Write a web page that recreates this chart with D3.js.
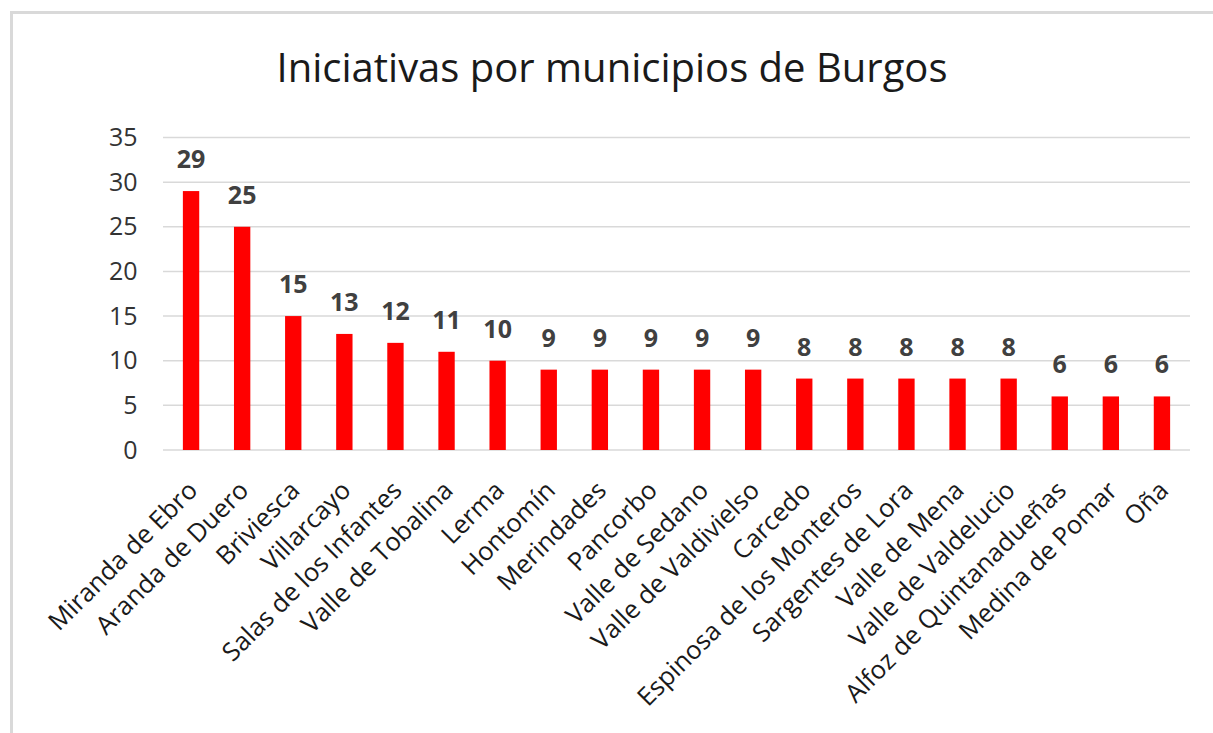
<!DOCTYPE html>
<html lang="es">

<head>
    <meta charset="UTF-8">
    <script src="https://d3js.org/d3.v7.min.js"></script>
    <title>Iniciativas por municipios de Burgos</title>
    <style>
        body {
            margin: 0;
            padding: 0;
            background-color: #fff;
            font-family: "Open Sans", sans-serif;
        }

        .grid line {
            stroke: #d9d9d9;
            stroke-width: 1.5px;
        }

        .bar {
            fill: #ff0000;
        }
    </style>
</head>

<body>
    <div id="chart"></div>
    <script>
        // data
        var municipios = ["Miranda de Ebro", "Aranda de Duero", "Briviesca", "Villarcayo",
            "Salas de los Infantes", "Valle de Tobalina", "Lerma", "Hontomín", "Merindades",
            "Pancorbo", "Valle de Sedano", "Valle de Valdivielso", "Carcedo",
            "Espinosa de los Monteros", "Sargentes de Lora", "Valle de Mena",
            "Valle de Valdelucio", "Alfoz de Quintanadueñas", "Medina de Pomar", "Oña"];
        var iniciativas = [29, 25, 15, 13, 12, 11, 10, 9, 9, 9, 9, 9, 8, 8, 8, 8, 8, 6, 6, 6];
        var yTicks = [0, 5, 10, 15, 20, 25, 30, 35];
        var titulo = "Iniciativas por municipios de Burgos";

        var W = 1213, H = 733;
        var plot = { left: 165.5, right: 1187.5, top: 137.5, bottom: 450 };

        var svg = d3.select("#chart")
            .append("svg")
            .attr("width", W)
            .attr("height", H);

        // chart border (right and bottom edges are cut off in the picture)
        svg.append("rect")
            .attr("x", 11.5)
            .attr("y", 12.5)
            .attr("width", 1400)
            .attr("height", 900)
            .attr("fill", "none")
            .attr("stroke", "#d9d9d9")
            .attr("stroke-width", 3);

        // title
        svg.append("text")
            .attr("x", 612)
            .attr("y", 82)
            .attr("text-anchor", "middle")
            .style("font-size", "40px")
            .style("fill", "#1a1a1a")
            .text(titulo);

        // scales
        var x = d3.scaleBand()
            .domain(municipios)
            .range([plot.left, plot.right])
            .paddingInner(0.68)
            .paddingOuter(0.34);

        var y = d3.scaleLinear()
            .domain([0, 35])
            .range([plot.bottom, plot.top]);

        // gridlines
        svg.append("g")
            .attr("class", "grid")
            .selectAll("line")
            .data(yTicks)
            .enter()
            .append("line")
            .attr("x1", 163)
            .attr("x2", 1190)
            .attr("y1", function (d) { return y(d); })
            .attr("y2", function (d) { return y(d); });

        // Y axis labels
        var yAxis = svg.append("g")
            .attr("transform", "translate(" + (plot.left - 28) + ",0)")
            .call(d3.axisLeft(y).tickValues(yTicks).tickSize(0).tickPadding(0));
        yAxis.select(".domain").remove();
        yAxis.selectAll("text")
            .style("font-family", "'Open Sans', sans-serif")
            .style("font-size", "25px")
            .style("fill", "#333");

        // bars
        svg.selectAll("bar")
            .data(iniciativas)
            .enter()
            .append("rect")
            .attr("class", "bar")
            .attr("x", function (d, i) { return x(municipios[i]); })
            .attr("y", function (d) { return y(d); })
            .attr("width", x.bandwidth())
            .attr("height", function (d) { return y(0) - y(d); });

        // value labels
        svg.selectAll("valor")
            .data(iniciativas)
            .enter()
            .append("text")
            .attr("x", function (d, i) { return x(municipios[i]) + x.bandwidth() / 2; })
            .attr("y", function (d) { return y(d) - 23; })
            .attr("text-anchor", "middle")
            .style("font-size", "25px")
            .style("font-weight", "bold")
            .style("fill", "#404040")
            .text(function (d) { return d; });

        // X labels, rotated -45
        svg.selectAll("xlabel")
            .data(municipios)
            .enter()
            .append("text")
            .attr("transform", function (d) {
                var cx = x(d) + x.bandwidth() / 2 + 8;
                return "translate(" + cx + ",492)rotate(-45)";
            })
            .attr("text-anchor", "end")
            .style("font-size", "25.5px")
            .style("fill", "#1a1a1a")
            .text(function (d) { return d; });
    </script>
</body>

</html>
